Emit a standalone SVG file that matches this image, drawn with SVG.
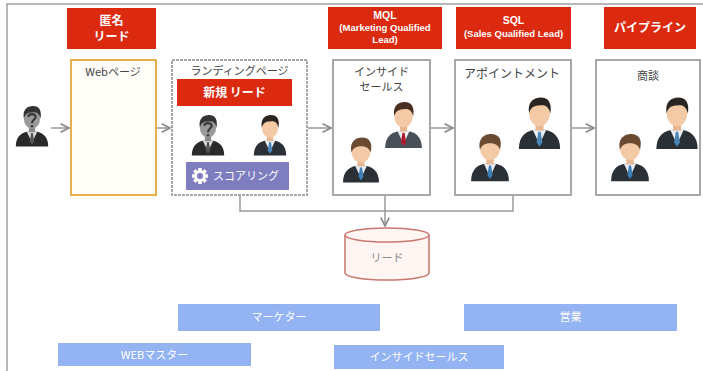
<svg xmlns="http://www.w3.org/2000/svg" xmlns:xlink="http://www.w3.org/1999/xlink" width="703" height="371" viewBox="0 0 703 371">
  <style>
    text { font-family: "Noto Sans CJK JP", "Liberation Sans", sans-serif; }
    .stage { fill: #dc2a10; }
    .stage-t { fill: #ffffff; font-size: 12px; font-weight: bold; text-anchor: middle; }
    .stage-s { fill: #ffffff; font-family: "Liberation Sans", Arial, sans-serif; font-size: 9.5px; font-weight: bold; text-anchor: middle; }
    .col { fill: #ffffff; stroke: #a8a8a8; stroke-width: 2; }
    .col-t { fill: #444444; font-size: 11px; text-anchor: middle; }
    .flow { fill: none; stroke: #9a9a9a; stroke-width: 1.5; }
    .role { fill: #93b3f3; }
    .role-t { fill: #ffffff; font-size: 11px; text-anchor: middle; }
  </style>
  <defs>
    <marker id="arr" viewBox="0 0 10 10" refX="9" refY="5" markerWidth="7" markerHeight="7" orient="auto">
      <path d="M1,1 L9,5 L1,9" fill="none" stroke="#8a8a8a" stroke-width="1.6"/>
    </marker>
    <!-- business person, colour variants -->
    <symbol id="man" viewBox="0 0 40 48">
      <path d="M2,48 C2,37 8,31 20,31 C32,31 38,37 38,48 Z" fill="#2b2f36"/>
      <path d="M14,31 L20,44 L26,31 Z" fill="#e8eef4"/>
      <path d="M19,33 L21,33 L22.5,42 L20,46 L17.5,42 Z" fill="#4b86b8"/>
      <rect x="16.5" y="25" width="7" height="7" fill="#e7b793"/>
      <ellipse cx="20" cy="17" rx="9" ry="11" fill="#f3c9a6"/>
      <path d="M11,17 C9,7 15,3 21,3 C28,3 31,8 29.5,17 C28,11 25,9 20,10 C15,10 12,12 11,17 Z" fill="#2a2520"/>
    </symbol>
    <symbol id="young" viewBox="0 0 40 48">
      <path d="M2,48 C2,37 8,31 20,31 C32,31 38,37 38,48 Z" fill="#2b2f36"/>
      <path d="M14,31 L20,44 L26,31 Z" fill="#e8eef4"/>
      <path d="M19,33 L21,33 L22.5,42 L20,46 L17.5,42 Z" fill="#3f7fb6"/>
      <rect x="16.5" y="25" width="7" height="7" fill="#e7b793"/>
      <ellipse cx="20" cy="17" rx="9.5" ry="11" fill="#f3c9a6"/>
      <path d="M10.5,18 C8,7 15,3 21,3 C29,3 32,9 29.5,18 C28,13 24,11 17,12 C14,13 12,14 10.5,18 Z" fill="#6b4a32"/>
    </symbol>
    <symbol id="boss" viewBox="0 0 40 48">
      <path d="M2,48 C2,37 8,31 20,31 C32,31 38,37 38,48 Z" fill="#4a4f58"/>
      <path d="M14,31 L20,44 L26,31 Z" fill="#f0f0f0"/>
      <path d="M19,33 L21,33 L22.5,42 L20,46 L17.5,42 Z" fill="#b2182b"/>
      <rect x="16.5" y="25" width="7" height="7" fill="#e7b793"/>
      <ellipse cx="20" cy="17" rx="9" ry="11" fill="#f3c9a6"/>
      <path d="M11,17 C9,7 15,3 21,3 C28,3 31,8 29.5,17 C28,11 25,9 20,10 C15,10 12,12 11,17 Z" fill="#4a2e22"/>
    </symbol>
    <symbol id="anon" viewBox="0 0 40 48">
      <path d="M2,48 C2,37 8,31 20,31 C32,31 38,37 38,48 Z" fill="#2a2a2a"/>
      <path d="M14,31 L20,44 L26,31 Z" fill="#dcdcdc"/>
      <path d="M19,33 L21,33 L22.5,42 L20,46 L17.5,42 Z" fill="#555555"/>
      <rect x="16.5" y="25" width="7" height="7" fill="#8a8a8a"/>
      <ellipse cx="20" cy="17" rx="9" ry="11" fill="#9a9a9a"/>
      <path d="M11,17 C9,7 15,3 21,3 C28,3 31,8 29.5,17 C28,11 25,9 20,10 C15,10 12,12 11,17 Z" fill="#333333"/>
      <path d="M16,15 C16,11 24,11 24,15 C24,18 20,18 20,22" fill="none" stroke="#3a3a3a" stroke-width="2.4"/>
      <circle cx="20" cy="25.5" r="1.4" fill="#3a3a3a"/>
    </symbol>
  </defs>

  <!-- page frame -->
  <path d="M7,371 L7,4 L703,4" fill="none" stroke="#a0a0a0" stroke-width="1.5"/>

  <!-- stage labels -->
  <g id="stage-anonymous">
    <rect class="stage" x="67" y="8" width="89" height="41"/>
    <text class="stage-t" x="111.5" y="25">匿名</text>
    <text class="stage-t" x="111.5" y="41">リード</text>
  </g>
  <g id="stage-mql">
    <rect class="stage" x="328" y="7" width="114" height="42"/>
    <text class="stage-s" x="385" y="19" style="font-size:10.5px">MQL</text>
    <text class="stage-s" x="385" y="31">(Marketing Qualified</text>
    <text class="stage-s" x="385" y="43">Lead)</text>
  </g>
  <g id="stage-sql">
    <rect class="stage" x="456" y="7" width="115" height="42"/>
    <text class="stage-s" x="513.5" y="24" style="font-size:10.5px">SQL</text>
    <text class="stage-s" x="513.5" y="37">(Sales Qualified Lead)</text>
  </g>
  <g id="stage-pipeline">
    <rect class="stage" x="604" y="7" width="92" height="42"/>
    <text class="stage-t" x="650" y="32">パイプライン</text>
  </g>

  <!-- visitor -->
  <g id="visitor">
    <use href="#anon" x="14" y="102" width="36" height="46"/>
  </g>

  <!-- web page -->
  <g id="web-page">
    <rect x="71" y="60" width="85" height="135" fill="#fffdf8" stroke="#e7b04c" stroke-width="2"/>
    <text class="col-t" x="113" y="76">Webページ</text>
  </g>

  <!-- landing page -->
  <g id="landing-page">
    <rect class="col" x="172" y="60" width="135" height="135" stroke-dasharray="3 1"/>
    <text class="col-t" x="239.5" y="75">ランディングページ</text>
    <rect class="stage" x="177" y="79" width="115" height="27"/>
    <text class="stage-t" x="234.5" y="97">新規 リード</text>
    <use href="#anon" x="190" y="111" width="36" height="46"/>
    <use href="#man" x="252" y="111" width="36" height="46"/>
    <g id="scoring">
      <rect x="186" y="162" width="103" height="28" fill="#7d7dc0"/>
      <g transform="translate(200,176)" fill="#ffffff">
        <circle r="6"/>
        <rect x="-1.8" y="-8" width="3.6" height="16"/>
        <rect x="-8" y="-1.8" width="16" height="3.6"/>
        <rect x="-1.8" y="-8" width="3.6" height="16" transform="rotate(45)"/>
        <rect x="-1.8" y="-8" width="3.6" height="16" transform="rotate(-45)"/>
        <circle r="3" fill="#7d7dc0"/>
      </g>
      <text class="role-t" x="246" y="180">スコアリング</text>
    </g>
  </g>

  <!-- inside sales -->
  <g id="inside-sales">
    <rect class="col" x="333" y="60" width="97" height="135"/>
    <text class="col-t" x="381.5" y="76">インサイド</text>
    <text class="col-t" x="381.5" y="91">セールス</text>
    <use href="#boss" x="383" y="99" width="41" height="49"/>
    <use href="#young" x="341" y="133" width="40" height="51"/>
  </g>

  <!-- appointment -->
  <g id="appointment">
    <rect class="col" x="455" y="60" width="116" height="135"/>
    <text class="col-t" x="512" y="78" style="font-size:12px">アポイントメント</text>
    <use href="#man" x="516" y="94" width="47" height="55"/>
    <use href="#young" x="469" y="128" width="42" height="56"/>
  </g>

  <!-- negotiation -->
  <g id="negotiation">
    <rect class="col" x="596" y="60" width="104" height="135"/>
    <text class="col-t" x="648" y="80">商談</text>
    <use href="#man" x="653" y="94" width="48" height="55"/>
    <use href="#young" x="609" y="128" width="42" height="56"/>
  </g>

  <!-- lead database -->
  <g id="lead-db">
    <path d="M345,235 L345,273 A42,7 0 0 0 429,273 L429,235" fill="#fff6f4" stroke="#c9766e" stroke-width="1.5"/>
    <ellipse cx="387" cy="235" rx="42" ry="7" fill="#fff6f4" stroke="#c9766e" stroke-width="1.5"/>
    <text x="387" y="262" fill="#888888" font-size="11" text-anchor="middle">リード</text>
  </g>

  <!-- connectors -->
  <g id="connectors">
    <path class="flow" d="M51,128 L69,128" marker-end="url(#arr)"/>
    <path class="flow" d="M157,128 L170,128" marker-end="url(#arr)"/>
    <path class="flow" d="M308,128 L331,128" marker-end="url(#arr)"/>
    <path class="flow" d="M431,128 L453,128" marker-end="url(#arr)"/>
    <path class="flow" d="M572,128 L594,128" marker-end="url(#arr)"/>
    <path class="flow" d="M240,196 L240,211 L513,211 L513,196"/>
    <path class="flow" d="M385,196 L385,226" marker-end="url(#arr)"/>
  </g>

  <!-- roles -->
  <g id="role-marketer">
    <rect class="role" x="178" y="304" width="202" height="27"/>
    <text class="role-t" x="279" y="321">マーケター</text>
  </g>
  <g id="role-sales">
    <rect class="role" x="464" y="304" width="213" height="27"/>
    <text class="role-t" x="570.5" y="321">営業</text>
  </g>
  <g id="role-webmaster">
    <rect class="role" x="58" y="343" width="193" height="23"/>
    <text class="role-t" x="154.5" y="358.5">WEBマスター</text>
  </g>
  <g id="role-inside-sales">
    <rect class="role" x="334" y="345" width="170" height="24"/>
    <text class="role-t" x="419" y="361">インサイドセールス</text>
  </g>
</svg>
